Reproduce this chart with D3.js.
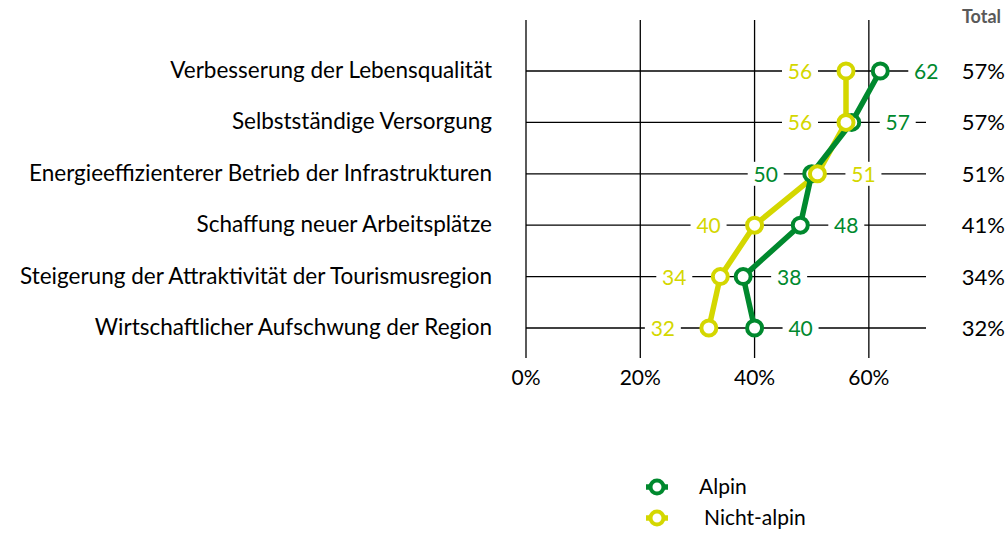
<!DOCTYPE html>
<html>
<head>
<meta charset="utf-8">
<script src="https://cdn.jsdelivr.net/npm/d3@7"></script>
<style>
  body { margin: 0; background: #fff; }
  svg text { font-family: Lato, "Liberation Sans", sans-serif; }
</style>
</head>
<body>
<div id="chart"></div>
<script>
var categories = [
    "Verbesserung der Lebensqualität",
    "Selbstständige Versorgung",
    "Energieeffizienterer Betrieb der Infrastrukturen",
    "Schaffung neuer Arbeitsplätze",
    "Steigerung der Attraktivität der Tourismusregion",
    "Wirtschaftlicher Aufschwung der Region"
];
var alpin = [62, 57, 50, 48, 38, 40];
var nichtAlpin = [56, 56, 51, 40, 34, 32];
var total = [57, 57, 51, 41, 34, 32];
var xTicks = [0, 20, 40, 60];
var seriesNames = ["Alpin", "Nicht-alpin"];

var green = "#00892e";
var yellow = "#d4d700";

var width = 1008, height = 534;
var svg = d3.select("#chart").append("svg")
    .attr("width", width)
    .attr("height", height);

var x = d3.scaleLinear().domain([0, 70]).range([526, 926]);
var y = d3.scalePoint().domain(categories).range([71, 328]);

// vertical grid lines
svg.selectAll(".vgrid")
    .data(xTicks)
    .enter().append("line")
    .attr("x1", function (d) { return x(d); })
    .attr("x2", function (d) { return x(d); })
    .attr("y1", 20)
    .attr("y2", 358)
    .attr("stroke", "#000")
    .attr("stroke-width", 1.3);

// x axis labels
svg.selectAll(".xlab")
    .data(xTicks)
    .enter().append("text")
    .attr("x", function (d) { return x(d); })
    .attr("y", 385)
    .attr("text-anchor", "middle")
    .style("font-size", "21px")
    .text(function (d) { return d + "%"; });

// horizontal lines
svg.selectAll(".hgrid")
    .data(categories)
    .enter().append("line")
    .attr("x1", x(0))
    .attr("x2", x(70))
    .attr("y1", function (d) { return y(d); })
    .attr("y2", function (d) { return y(d); })
    .attr("stroke", "#000")
    .attr("stroke-width", 1.3);

// category labels
svg.selectAll(".cat")
    .data(categories)
    .enter().append("text")
    .attr("x", 492)
    .attr("y", function (d) { return y(d) + 7; })
    .attr("text-anchor", "end")
    .style("font-size", "22.5px")
    .text(function (d) { return d; });

// totals
svg.append("text")
    .attr("x", 1001)
    .attr("y", 23)
    .attr("text-anchor", "end")
    .attr("fill", "#595959")
    .style("font-size", "18px")
    .style("font-weight", "bold")
    .text("Total");

svg.selectAll(".tot")
    .data(total)
    .enter().append("text")
    .attr("x", 1005)
    .attr("y", function (d, i) { return y(categories[i]) + 8; })
    .attr("text-anchor", "end")
    .style("font-size", "22px")
    .text(function (d) { return d + "%"; });

var series = [
    { name: seriesNames[0], values: alpin, color: green, other: nichtAlpin },
    { name: seriesNames[1], values: nichtAlpin, color: yellow, other: alpin }
];

// value labels with white boxes
series.forEach(function (s) {
    var g = svg.append("g");
    s.values.forEach(function (v, i) {
        var right = v >= s.other[i] && !(v === s.other[i] && s.name !== seriesNames[0]);
        var lx = x(v) + (right ? 46 : -46);
        var ly = y(categories[i]);
        g.append("rect")
            .attr("x", lx - 18)
            .attr("y", ly - 12)
            .attr("width", 36)
            .attr("height", 24)
            .attr("fill", "#fff");
        g.append("text")
            .attr("x", lx)
            .attr("y", ly + 8)
            .attr("text-anchor", "middle")
            .attr("fill", s.color)
            .style("font-size", "21px")
            .text(v);
    });
});

var line = d3.line()
    .x(function (d) { return x(d); })
    .y(function (d, i) { return y(categories[i]); });

// draw yellow first, then green on top of it, markers last
[series[1], series[0]].forEach(function (s) {
    svg.append("path")
        .datum(s.values)
        .attr("d", line)
        .attr("fill", "none")
        .attr("stroke", s.color)
        .attr("stroke-width", 5.5)
        .attr("stroke-linejoin", "round");
});

[series[0], series[1]].forEach(function (s) {
    svg.selectAll(null)
        .data(s.values)
        .enter().append("circle")
        .attr("cx", function (d) { return x(d); })
        .attr("cy", function (d, i) { return y(categories[i]); })
        .attr("r", 7.5)
        .attr("fill", "#fff")
        .attr("stroke", s.color)
        .attr("stroke-width", 4);
});

// legend
var legend = svg.selectAll(".legend")
    .data(series)
    .enter().append("g")
    .attr("transform", function (d, i) { return "translate(657," + (487 + i * 31) + ")"; });

legend.append("line")
    .attr("x1", -11).attr("x2", 11)
    .attr("stroke", function (d) { return d.color; })
    .attr("stroke-width", 5.5);

legend.append("circle")
    .attr("r", 6.5)
    .attr("fill", "#fff")
    .attr("stroke", function (d) { return d.color; })
    .attr("stroke-width", 4);

legend.append("text")
    .attr("x", function (d, i) { return i === 0 ? 42 : 47; })
    .attr("y", 7)
    .style("font-size", "21px")
    .text(function (d) { return d.name; });
</script>
</body>
</html>
